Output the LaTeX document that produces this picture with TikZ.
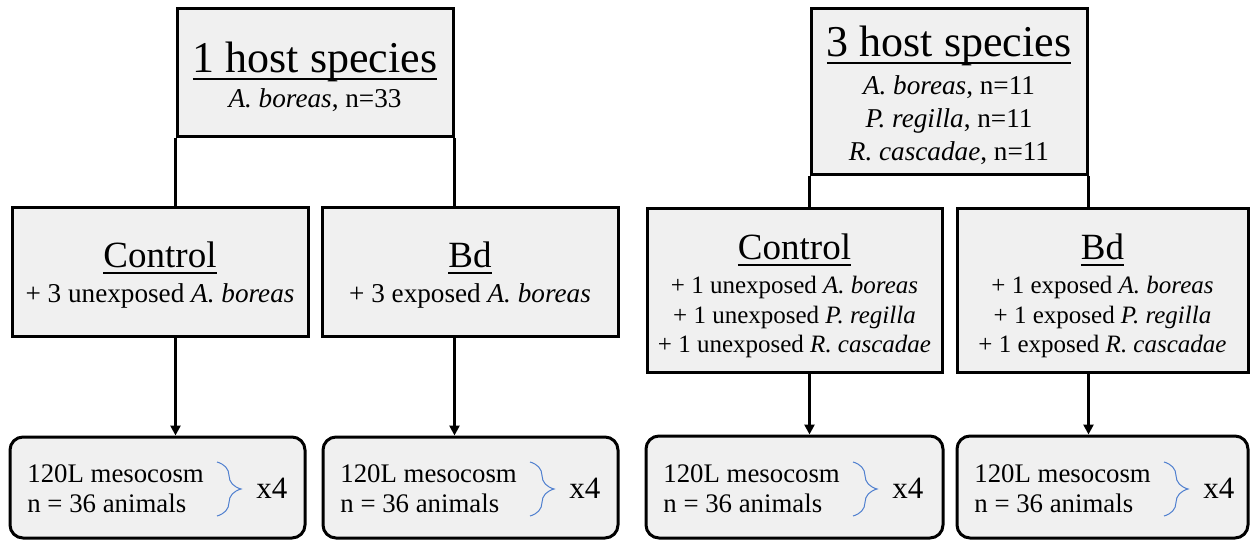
\documentclass[tikz,border=0pt]{standalone}
\usepackage{fontspec}
\setmainfont{Liberation Serif}
\usetikzlibrary{arrows.meta,decorations.pathreplacing}
\definecolor{boxgray}{HTML}{F0F0F0}
\definecolor{braceblue}{HTML}{4F7FCF}
\newcommand\myul[1]{\setbox0\hbox{#1}\rlap{\rule[-0.16em]{\wd0}{0.05em}}\box0}
\tikzset{
  box/.style={draw, line width=1.5pt, fill=boxgray, inner sep=0pt},
  rbox/.style={box, rounded corners=6.5pt},
  conn/.style={line width=1.5pt},
  arr/.style={conn, -{Triangle[length=5pt,width=5pt]}},
  ttl/.style={font=\fontsize{22}{26}\selectfont, anchor=base, inner sep=0pt},
  hd/.style={font=\fontsize{18.5}{22}\selectfont, anchor=base, inner sep=0pt},
  sub/.style={font=\fontsize{13.6}{16}\selectfont, anchor=base, inner sep=0pt},
  subs/.style={font=\fontsize{12.5}{15}\selectfont, anchor=base, inner sep=0pt},
  mtxt/.style={font=\fontsize{13.4}{15}\selectfont, anchor=base west, inner sep=0pt},
  xfour/.style={font=\fontsize{15.5}{18}\selectfont, anchor=base west, inner sep=0pt},
  brc/.style={draw=braceblue, line width=0.5pt, decorate, decoration={brace, amplitude=12pt}},
}
\begin{document}
\begin{tikzpicture}[x=0.5pt,y=-0.5pt]
\useasboundingbox (0,0) rectangle (1250,540);
% boxes
\node[box, minimum width=138pt, minimum height=64pt] (top1) at (315,73) {};
\node[box, minimum width=138pt, minimum height=83pt] (top2) at (949,92) {};
\node[box, minimum width=148pt, minimum height=64.5pt] (ctrl1) at (160,272.5) {};
\node[box, minimum width=148pt, minimum height=64.5pt] (bd1) at (470,272.5) {};
\node[box, minimum width=147.5pt, minimum height=82pt] (ctrl2) at (794.5,291) {};
\node[box, minimum width=145.5pt, minimum height=82pt] (bd2) at (1102.5,291) {};
\node[rbox, minimum width=147.5pt, minimum height=50.5pt] (bot1) at (157.5,487.5) {};
\node[rbox, minimum width=147.5pt, minimum height=50.5pt] (bot2) at (470.5,487.5) {};
\node[rbox, minimum width=148.5pt, minimum height=51pt] (bot3) at (794.5,487) {};
\node[rbox, minimum width=145.5pt, minimum height=51pt] (bot4) at (1102.5,487) {};
% connectors
\draw[conn] (top1.south west) -- (top1.south west |- ctrl1.north);
\draw[conn] (top1.south east) -- (top1.south east |- bd1.north);
\draw[arr] (top1.south west |- ctrl1.south) -- (top1.south west |- bot1.north);
\draw[arr] (top1.south east |- bd1.south) -- (top1.south east |- bot2.north);
\draw[conn] (top2.south west) -- (top2.south west |- ctrl2.north);
\draw[conn] (top2.south east) -- (top2.south east |- bd2.north);
\draw[arr] (top2.south west |- ctrl2.south) -- (top2.south west |- bot3.north);
\draw[arr] (top2.south east |- bd2.south) -- (top2.south east |- bot4.north);
% texts top
\node[ttl] (t1a) at (315,73) {\myul{1 host species}};
\node[sub] (t1b) at (315,108) {\textit{A. boreas}, n=33};
\node[ttl] (t2a) at (949,57) {\myul{3 host species}};
\node[sub] (t2b) at (949,95) {\textit{A. boreas}, n=11};
\node[sub] (t2c) at (949,128) {\textit{P. regilla}, n=11};
\node[sub] (t2d) at (949,161) {\textit{R. cascadae}, n=11};
% middle texts
\node[hd] (c1a) at (160,268) {\myul{Control}};
\node[sub] (c1b) at (160,303) {+ 3 unexposed \textit{A. boreas}};
\node[hd] (d1a) at (470,268) {\myul{Bd}};
\node[sub] (d1b) at (470,303) {+ 3 exposed \textit{A. boreas}};
\node[hd] (c2a) at (794.5,260) {\myul{Control}};
\node[subs] (c2b) at (794.5,293) {+ 1 unexposed \textit{A. boreas}};
\node[subs] (c2c) at (794.5,323) {+ 1 unexposed \textit{P. regilla}};
\node[subs] (c2d) at (794.5,352) {+ 1 unexposed \textit{R. cascadae}};
\node[hd] (d2a) at (1102.5,260) {\myul{Bd}};
\node[subs] (d2b) at (1102.5,293) {+ 1 exposed \textit{A. boreas}};
\node[subs] (d2c) at (1102.5,323) {+ 1 exposed \textit{P. regilla}};
\node[subs] (d2d) at (1102.5,352) {+ 1 exposed \textit{R. cascadae}};
% bottom texts
\foreach \L/\nm in {10/a,323/b,646/c,957/d}{
  \node[mtxt] (m1\nm) at (\L+17,482) {120L mesocosm};
  \node[mtxt] (m2\nm) at (\L+17,512) {n = 36 animals};
  \draw[brc] (\L+207,462) -- (\L+207,516);
  \node[xfour] (x\nm) at (\L+246,498) {x4};
}
\end{tikzpicture}
\end{document}
